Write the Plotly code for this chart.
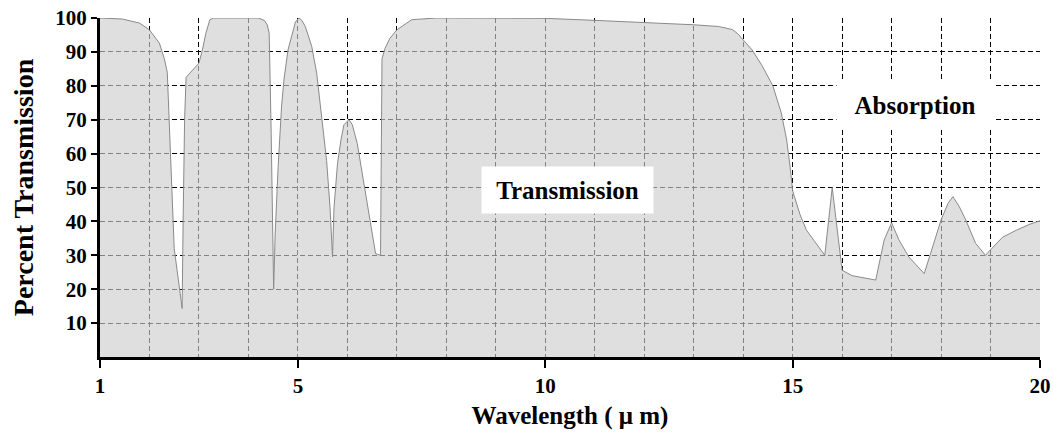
import plotly.graph_objects as go

# Atmospheric transmission spectrum (wavelength in micrometres, percent transmission)
wavelength = [
    1.0, 1.45, 1.8, 2.0, 2.2, 2.3, 2.36, 2.5, 2.6, 2.66,
    2.68, 2.71, 2.74, 2.84, 3.0, 3.07, 3.14, 3.22, 3.3, 4.2,
    4.32, 4.38, 4.42, 4.46, 4.49, 4.51, 4.54, 4.6, 4.67, 4.72,
    4.8, 4.9, 4.95, 5.02, 5.08, 5.15, 5.28, 5.38, 5.48, 5.58,
    5.65, 5.7, 5.73, 5.8, 5.87, 5.93, 6.03, 6.1, 6.2, 6.3,
    6.44, 6.57, 6.67, 6.68, 6.7, 6.76, 6.86, 7.0, 7.3, 7.8,
    8.7, 10.0, 11.0, 12.0, 13.0, 13.5, 13.78, 13.88, 14.0, 14.18,
    14.38, 14.6, 14.77, 14.88, 14.95, 15.0, 15.15, 15.28, 15.45, 15.65,
    15.8, 15.88, 15.95, 16.0, 16.2, 16.68, 16.85, 17.0, 17.15, 17.35,
    17.66, 17.83, 18.0, 18.14, 18.24, 18.37, 18.5, 18.7, 18.9, 18.96,
    19.09, 19.24, 19.52, 19.8, 20.0,
]
transmission = [
    100, 99.7, 98.5, 96.5, 92.6, 88, 84, 32, 21, 14.3,
    40, 70, 82.5, 84, 86.7, 90.6, 95.5, 99.5, 100, 100,
    99.3, 98, 95.5, 66, 36, 20, 36, 56, 74, 82,
    90.6, 96.5, 98.8, 100, 99.3, 97.5, 91.6, 83.7, 71, 58,
    44, 29.5, 44, 57, 64, 68.5, 70, 68.5, 63, 54,
    42, 30.5, 30, 68, 88, 91, 94, 96.5, 99.5, 100,
    100, 99.9, 99.3, 98.7, 98, 97.5, 96.6, 95.5, 93.6, 90.6,
    86, 80, 72, 64, 56, 49, 42, 37.4, 34, 30,
    50, 40, 30, 25.6, 24, 22.7, 34.5, 39.6, 34.5, 29.5,
    24.6, 32.5, 40.4, 45.3, 47.3, 44.3, 40.4, 33.5, 30, 31,
    33, 35.3, 37.4, 39.2, 40.2,
]

x_tick_vals = [1, 5, 10, 15, 20]
x_grid_vals = list(range(1, 21))
y_tick_vals = list(range(10, 101, 10))

serif = "Liberation Serif"
grid_dash = "5px,3px"

fig = go.Figure()
fig.add_trace(go.Scatter(
    x=wavelength,
    y=transmission,
    mode="lines",
    line=dict(color="#8a8a8a", width=1),
    fill="tozeroy",
    fillcolor="rgba(205,205,205,0.64)",
    hoverinfo="skip",
    showlegend=False,
))

fig.add_annotation(
    x=10.45, y=49.4, xref="x", yref="y",
    text="Transmission", showarrow=False,
    font=dict(family=serif, size=25, color="black", weight="bold"),
    bgcolor="white", width=171, height=46, borderpad=0,
)
fig.add_annotation(
    x=17.48, y=74.4, xref="x", yref="y",
    text="Absorption", showarrow=False,
    font=dict(family=serif, size=25, color="black", weight="bold"),
    bgcolor="white", width=156, height=46, borderpad=0,
)

fig.update_layout(
    width=1053, height=439,
    margin=dict(l=100, r=13, t=18, b=82),
    paper_bgcolor="white",
    plot_bgcolor="white",
    xaxis=dict(
        range=[1, 20], automargin=False,
        tickmode="array", tickvals=x_tick_vals,
        ticks="outside", ticklen=8, tickwidth=2, tickcolor="black",
        tickfont=dict(family=serif, size=21, color="black", weight="bold"),
        showline=True, linecolor="black", linewidth=3,
        showgrid=True, gridcolor="black", gridwidth=1.3, griddash=grid_dash,
        minor=dict(tickmode="array", tickvals=x_grid_vals, ticks="",
                   showgrid=True, gridcolor="black", gridwidth=1.3,
                   griddash=grid_dash),
        zeroline=False,
        title=dict(text="Wavelength ( μ m)", standoff=10,
                   font=dict(family=serif, size=25, color="black", weight="bold")),
    ),
    yaxis=dict(
        range=[0, 100], automargin=False,
        tickmode="array", tickvals=y_tick_vals,
        ticks="outside", ticklen=6, tickwidth=2, tickcolor="black",
        tickfont=dict(family=serif, size=21, color="black", weight="bold"),
        showline=True, linecolor="black", linewidth=3,
        showgrid=True, gridcolor="black", gridwidth=1.3, griddash=grid_dash,
        zeroline=False,
        title=dict(text="Percent Transmission", standoff=14,
                   font=dict(family=serif, size=28, color="black", weight="bold")),
    ),
)

fig.write_html("out.html")
